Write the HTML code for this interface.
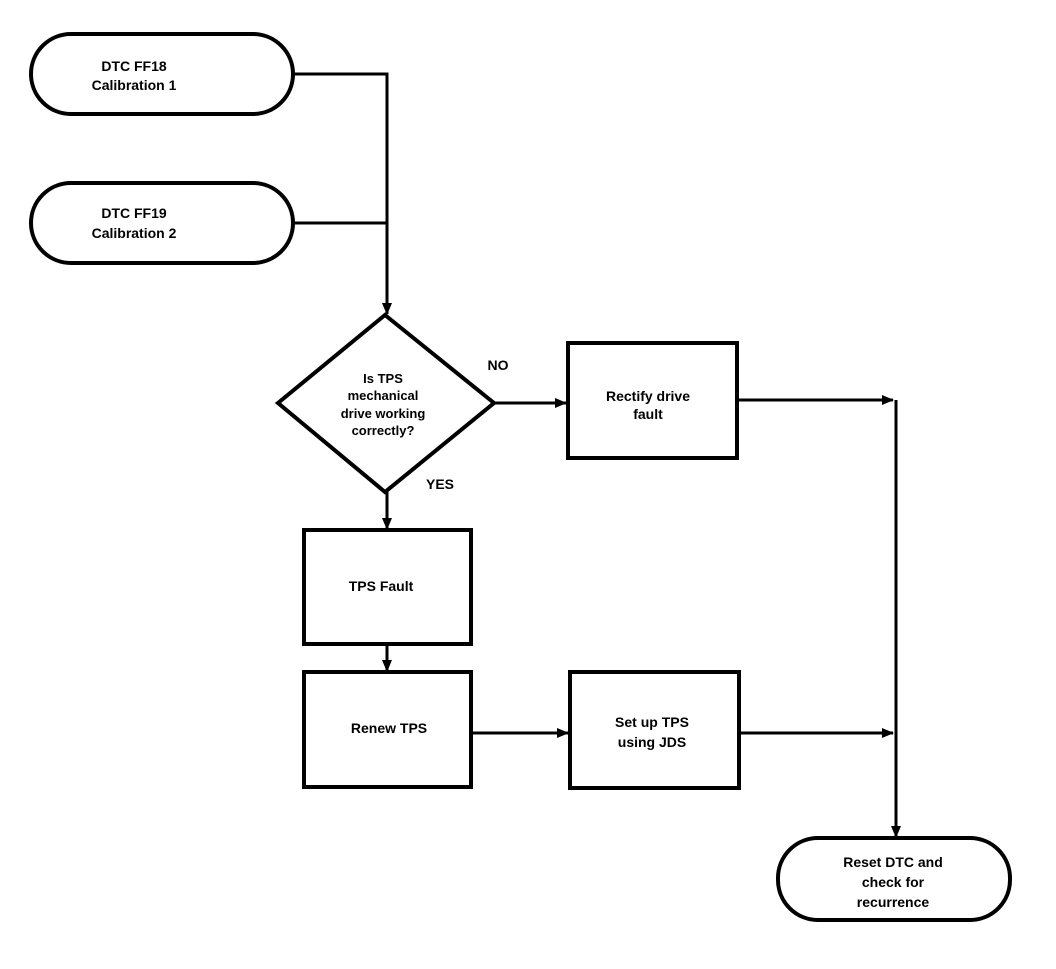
<!DOCTYPE html>
<html><head><style>html,body{margin:0;padding:0;background:#fff}</style></head>
<body>
<svg width="1056" height="964" xmlns="http://www.w3.org/2000/svg" font-family="Liberation Sans, sans-serif" font-size="14" font-weight="bold" text-anchor="middle">
<defs><marker id="a" markerWidth="12" markerHeight="10" refX="11" refY="5" orient="auto" markerUnits="userSpaceOnUse"><path d="M0,0 L12,5 L0,10 z" fill="#000"/></marker></defs>
<g fill="none" stroke="#000" stroke-width="4">
<rect x="31" y="34" width="262" height="80" rx="40"/>
<rect x="31" y="183" width="262" height="80" rx="40"/>
<polygon points="385,315 494,403 385,492 278,403"/>
<rect x="568" y="343" width="169" height="115"/>
<rect x="304" y="530" width="167" height="114"/>
<rect x="304" y="672" width="167" height="115"/>
<rect x="570" y="672" width="169" height="116"/>
<rect x="778" y="838" width="232" height="82" rx="40"/>
</g>
<g fill="none" stroke="#000" stroke-width="3">
<path d="M293,74 H387 V314" marker-end="url(#a)"/>
<path d="M293,223 H387"/>
<path d="M494,403 H566" marker-end="url(#a)"/>
<path d="M737,400 H893" marker-end="url(#a)"/>
<path d="M896,400 V837" marker-end="url(#a)"/>
<path d="M739,733 H893" marker-end="url(#a)"/>
<path d="M471,733 H568" marker-end="url(#a)"/>
<path d="M387,492 V529" marker-end="url(#a)"/>
<path d="M387,644 V671" marker-end="url(#a)"/>
</g>
<g fill="#000">
<text x="134" y="71">DTC FF18</text><text x="134" y="90">Calibration 1</text>
<text x="134" y="218">DTC FF19</text><text x="134" y="238">Calibration 2</text>
<g font-size="13"><text x="383" y="383">Is TPS</text><text x="383" y="400">mechanical</text><text x="383" y="418">drive working</text><text x="383" y="435">correctly?</text></g>
<text x="498" y="370">NO</text><text x="440" y="489">YES</text>
<text x="648" y="401">Rectify drive</text><text x="648" y="419">fault</text>
<text x="381" y="591">TPS Fault</text>
<text x="389" y="733">Renew  TPS</text>
<text x="652" y="727">Set up TPS</text><text x="652" y="747">using JDS</text>
<text x="893" y="867">Reset DTC and</text><text x="893" y="887">check for</text><text x="893" y="907">recurrence</text>
</g>
</svg>
</body></html>
